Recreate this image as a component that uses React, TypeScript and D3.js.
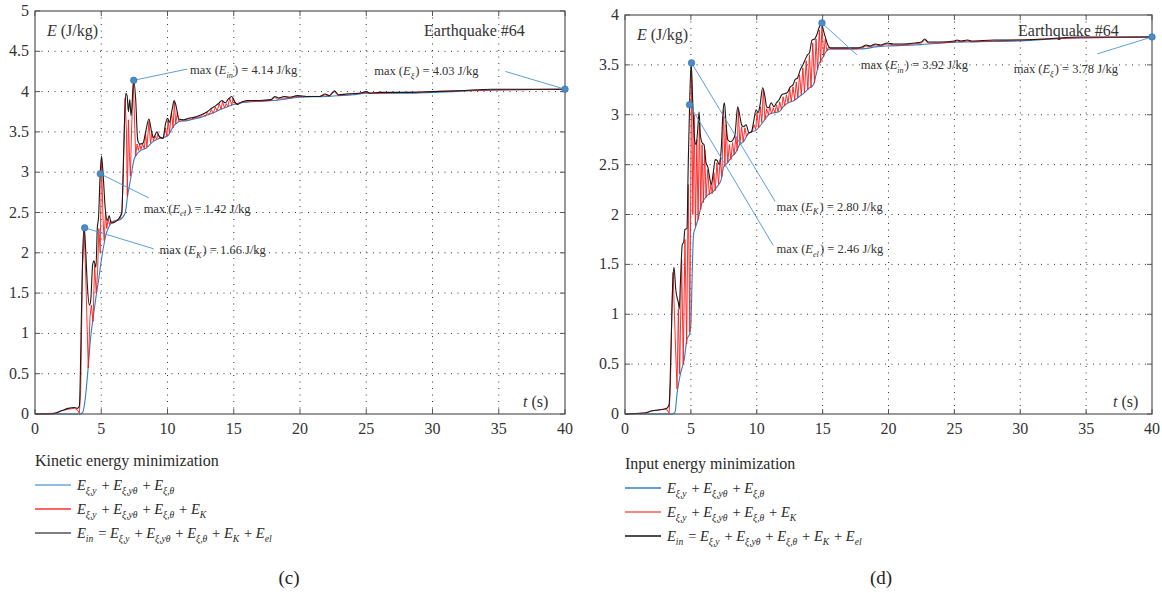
import React from "react";
import * as d3 from "d3";

type P = [number, number];

// ---------- Panel (c): Kinetic energy minimization ----------
const C_BLUE: P[] = [
  [0, 0], [3.4, 0], [3.6, 0.02], [3.8, 0.2], [4.0, 0.55], [4.2, 0.95], [4.4, 1.21], [4.6, 1.45], [4.8, 1.66],
  [5.0, 1.9], [5.2, 2.1], [5.4, 2.25], [5.6, 2.33], [5.9, 2.39], [6.4, 2.41], [6.8, 2.49], [7.0, 2.72],
  [7.2, 2.9], [7.5, 3.17], [7.9, 3.26], [8.4, 3.3], [8.9, 3.38], [9.4, 3.42], [10.0, 3.45], [10.5, 3.58],
  [10.9, 3.63], [11.5, 3.64], [12.0, 3.66], [12.5, 3.68], [13.0, 3.71], [13.5, 3.74], [14.0, 3.78],
  [14.5, 3.81], [15.0, 3.84], [15.5, 3.86], [16.0, 3.87], [17.0, 3.88], [18.0, 3.89], [19.0, 3.91],
  [20.0, 3.93], [22.0, 3.94], [24.0, 3.96], [25.0, 3.98], [28.0, 3.98], [30.0, 3.99], [33.0, 4.01],
  [35.0, 4.02], [40.0, 4.03],
];
const C_RED: P[] = [
  [0, 0], [1.5, 0.01], [2.0, 0.04], [2.5, 0.06], [3.0, 0.07], [3.2, 0.05], [3.35, 0.01], [3.45, 0.3],
  [3.58, 1.8], [3.72, 2.27], [3.85, 1.6], [4.02, 0.57], [4.15, 1.2], [4.25, 1.35], [4.38, 1.15], [4.5, 1.85],
  [4.62, 1.5], [4.72, 1.75], [4.82, 2.3], [4.92, 2.0], [5.02, 3.15], [5.14, 2.4], [5.22, 2.15], [5.32, 2.5],
  [5.42, 2.3], [5.52, 2.42], [5.62, 2.35], [5.72, 2.4], [5.85, 2.38], [6.0, 2.39], [6.2, 2.41], [6.4, 2.42],
  [6.55, 2.48], [6.65, 2.9], [6.8, 3.92], [6.9, 3.5], [6.97, 2.7], [7.05, 3.65], [7.13, 3.2], [7.2, 2.95],
  [7.3, 3.6], [7.42, 4.1], [7.52, 3.6], [7.6, 3.2], [7.7, 3.35], [7.8, 3.27], [7.9, 3.35], [8.0, 3.28],
  [8.12, 3.35], [8.25, 3.29], [8.35, 3.48], [8.45, 3.31], [8.6, 3.63], [8.72, 3.36], [8.82, 3.48],
  [8.95, 3.39], [9.05, 3.45], [9.18, 3.41], [9.28, 3.48], [9.4, 3.42], [9.55, 3.43], [9.7, 3.42],
  [9.85, 3.55], [9.95, 3.45], [10.05, 3.65], [10.15, 3.48], [10.3, 3.75], [10.42, 3.55], [10.52, 3.87],
  [10.62, 3.6], [10.75, 3.75], [10.85, 3.63], [11.0, 3.65], [11.2, 3.64], [11.5, 3.66], [11.8, 3.66],
  [12.2, 3.68], [12.5, 3.69], [12.7, 3.72], [12.85, 3.69], [13.0, 3.74], [13.15, 3.71], [13.3, 3.78],
  [13.45, 3.73], [13.6, 3.81], [13.75, 3.76], [13.9, 3.85], [14.05, 3.78], [14.15, 3.88], [14.3, 3.8],
  [14.45, 3.85], [14.55, 3.81], [14.7, 3.92], [14.85, 3.83], [14.95, 3.92], [15.1, 3.85], [15.3, 3.85],
  [15.6, 3.87], [16.0, 3.88], [17.0, 3.88], [17.8, 3.89], [18.1, 3.93], [18.3, 3.9], [18.5, 3.92],
  [18.8, 3.92], [19.2, 3.92], [19.8, 3.94], [20.5, 3.94], [21.5, 3.94], [21.9, 3.96], [22.2, 3.94],
  [22.6, 4.0], [22.9, 3.95], [23.5, 3.97], [24.5, 3.98], [25.0, 3.99], [25.3, 3.98], [26.0, 3.98],
  [28.0, 3.99], [30.0, 4.0], [32.0, 4.01], [34.5, 4.02], [40.0, 4.03],
];
const C_BLACK: P[] = [
  [0, 0], [1.0, 0], [1.5, 0.01], [2.0, 0.04], [2.5, 0.07], [3.0, 0.08], [3.2, 0.07], [3.35, 0.1],
  [3.5, 1.2], [3.6, 2.0], [3.72, 2.31], [3.82, 2.05], [3.95, 1.6], [4.1, 1.35], [4.2, 1.4], [4.35, 1.85],
  [4.45, 1.9], [4.6, 1.82], [4.7, 2.3], [4.8, 2.45], [4.9, 2.9], [5.02, 3.2], [5.15, 2.95], [5.3, 2.55],
  [5.45, 2.4], [5.6, 2.46], [5.75, 2.37], [6.0, 2.38], [6.3, 2.42], [6.55, 2.5], [6.7, 3.3], [6.85, 3.98],
  [6.95, 3.95], [7.05, 3.75], [7.15, 3.9], [7.25, 3.7], [7.45, 4.14], [7.6, 3.9], [7.75, 3.4], [7.9, 3.35],
  [8.15, 3.36], [8.35, 3.5], [8.6, 3.66], [8.8, 3.5], [8.95, 3.43], [9.2, 3.5], [9.4, 3.44], [9.65, 3.42],
  [9.85, 3.6], [10.0, 3.67], [10.15, 3.62], [10.35, 3.78], [10.5, 3.89], [10.65, 3.82], [10.85, 3.66],
  [11.2, 3.65], [11.6, 3.67], [12.0, 3.68], [12.5, 3.71], [13.0, 3.75], [13.3, 3.79], [13.6, 3.82],
  [13.9, 3.86], [14.1, 3.89], [14.35, 3.86], [14.6, 3.91], [14.85, 3.94], [15.05, 3.88], [15.3, 3.84],
  [15.6, 3.87], [16.0, 3.89], [17.0, 3.89], [17.8, 3.9], [18.1, 3.94], [18.4, 3.92], [18.8, 3.94],
  [19.2, 3.93], [19.8, 3.95], [20.5, 3.94], [21.5, 3.94], [21.9, 3.97], [22.2, 3.95], [22.6, 4.01],
  [22.9, 3.96], [23.5, 3.97], [24.5, 3.98], [25.0, 4.0], [25.3, 3.98], [26.0, 3.99], [28.0, 3.99],
  [30.0, 4.0], [32.0, 4.01], [34.5, 4.03], [40.0, 4.03],
];

// ---------- Panel (d): Input energy minimization ----------
const D_BLUE: P[] = [
  [0, 0], [3.6, 0], [3.8, 0.02], [3.95, 0.2], [4.1, 0.33], [4.3, 0.45], [4.5, 0.55], [4.7, 0.75], [4.9, 0.8],
  [5.0, 0.9], [5.1, 1.4], [5.2, 1.8], [5.35, 1.87], [5.6, 1.98], [5.8, 2.1], [6.0, 2.15], [6.3, 2.2],
  [6.6, 2.22], [7.0, 2.28], [7.3, 2.35], [7.5, 2.48], [7.8, 2.52], [8.1, 2.58], [8.4, 2.62], [8.7, 2.7],
  [9.0, 2.73], [9.3, 2.8], [9.6, 2.83], [9.9, 2.84], [10.2, 2.88], [10.5, 2.93], [10.9, 3.0], [11.3, 3.02],
  [11.7, 3.03], [12.0, 3.08], [12.4, 3.12], [12.8, 3.14], [13.2, 3.18], [13.6, 3.22], [14.0, 3.27],
  [14.3, 3.3], [14.5, 3.4], [14.7, 3.5], [15.0, 3.57], [15.3, 3.64], [15.6, 3.66], [16.0, 3.66],
  [18.0, 3.66], [19.0, 3.68], [20.0, 3.69], [22.0, 3.7], [24.0, 3.72], [26.0, 3.73], [30.0, 3.74],
  [34.0, 3.77], [40.0, 3.78],
];
const D_RED: P[] = [
  [0, 0], [1.5, 0.01], [2.0, 0.03], [2.5, 0.04], [3.0, 0.05], [3.2, 0.04], [3.35, 0.01], [3.45, 0.3],
  [3.55, 1.0], [3.65, 1.42], [3.8, 0.8], [3.95, 0.25], [4.05, 1.05], [4.15, 0.4], [4.3, 1.55], [4.42, 0.5],
  [4.55, 1.75], [4.68, 0.7], [4.8, 2.3], [4.92, 0.82], [5.05, 3.45], [5.15, 2.0], [5.25, 3.0], [5.35, 1.88],
  [5.45, 2.75], [5.55, 1.95], [5.65, 2.95], [5.75, 2.05], [5.85, 2.7], [5.95, 2.12], [6.05, 2.65],
  [6.15, 2.17], [6.28, 2.45], [6.4, 2.2], [6.52, 2.3], [6.62, 2.21], [6.75, 2.42], [6.85, 2.24],
  [6.98, 2.52], [7.1, 2.3], [7.22, 2.55], [7.35, 2.38], [7.48, 3.05], [7.58, 2.48], [7.68, 2.9],
  [7.8, 2.52], [7.92, 2.7], [8.04, 2.55], [8.16, 2.72], [8.28, 2.6], [8.42, 2.78], [8.52, 2.64],
  [8.6, 3.05], [8.72, 2.7], [8.85, 2.88], [8.97, 2.73], [9.1, 2.87], [9.22, 2.78], [9.35, 2.82],
  [9.5, 2.82], [9.65, 2.83], [9.8, 2.9], [9.92, 2.85], [10.02, 3.02], [10.14, 2.87], [10.28, 3.08],
  [10.38, 2.92], [10.5, 3.25], [10.62, 2.95], [10.75, 3.06], [10.88, 3.0], [11.0, 3.08], [11.12, 3.01],
  [11.25, 3.07], [11.38, 3.02], [11.5, 3.1], [11.62, 3.03], [11.75, 3.13], [11.88, 3.05], [12.0, 3.18],
  [12.12, 3.09], [12.25, 3.2], [12.38, 3.12], [12.5, 3.26], [12.62, 3.13], [12.75, 3.28], [12.88, 3.15],
  [13.0, 3.33], [13.12, 3.17], [13.25, 3.4], [13.38, 3.2], [13.5, 3.47], [13.62, 3.22], [13.75, 3.54],
  [13.88, 3.25], [14.0, 3.6], [14.12, 3.27], [14.25, 3.72], [14.38, 3.32], [14.5, 3.76], [14.62, 3.45],
  [14.75, 3.85], [14.85, 3.52], [14.95, 3.9], [15.08, 3.58], [15.2, 3.76], [15.32, 3.64], [15.45, 3.68],
  [15.6, 3.66], [16.0, 3.66], [17.5, 3.66], [18.0, 3.67], [18.3, 3.69], [18.6, 3.68], [19.0, 3.7],
  [19.4, 3.69], [19.9, 3.71], [20.4, 3.7], [21.0, 3.7], [22.0, 3.71], [22.5, 3.72], [22.75, 3.75],
  [23.0, 3.72], [24.0, 3.72], [25.0, 3.73], [25.2, 3.74], [25.5, 3.73], [26.0, 3.74], [26.3, 3.73],
  [28.0, 3.74], [30.0, 3.75], [32.0, 3.76], [34.5, 3.77], [40.0, 3.78],
];
const D_BLACK: P[] = [
  [0, 0], [1.5, 0.01], [2.0, 0.03], [2.5, 0.04], [3.0, 0.05], [3.2, 0.06], [3.35, 0.1], [3.5, 0.7],
  [3.62, 1.3], [3.72, 1.47], [3.85, 1.25], [3.98, 1.15], [4.05, 1.12], [4.12, 1.05], [4.2, 1.3], [4.35, 1.7],
  [4.45, 1.72], [4.55, 1.85], [4.7, 1.86], [4.8, 2.5], [4.9, 3.08], [5.02, 3.52], [5.15, 3.1], [5.28, 2.75],
  [5.4, 2.7], [5.52, 2.85], [5.62, 3.03], [5.72, 2.8], [5.85, 2.72], [6.0, 2.7], [6.15, 2.52], [6.3, 2.47],
  [6.45, 2.35], [6.55, 2.3], [6.7, 2.42], [6.85, 2.55], [7.0, 2.54], [7.15, 2.5], [7.3, 2.65], [7.45, 3.05],
  [7.55, 3.12], [7.65, 2.95], [7.8, 2.75], [8.0, 2.73], [8.2, 2.75], [8.35, 2.8], [8.55, 3.08], [8.7, 3.0],
  [8.85, 2.9], [9.0, 2.88], [9.2, 2.9], [9.4, 2.82], [9.6, 2.83], [9.75, 2.92], [9.95, 3.05], [10.1, 3.02],
  [10.25, 3.1], [10.45, 3.27], [10.6, 3.2], [10.75, 3.08], [10.9, 3.07], [11.1, 3.12], [11.3, 3.08],
  [11.5, 3.12], [11.7, 3.15], [11.9, 3.2], [12.1, 3.21], [12.3, 3.22], [12.55, 3.28], [12.75, 3.3],
  [12.9, 3.35], [13.1, 3.37], [13.3, 3.45], [13.5, 3.5], [13.7, 3.56], [13.85, 3.6], [14.0, 3.62],
  [14.2, 3.75], [14.4, 3.76], [14.55, 3.8], [14.75, 3.88], [14.92, 3.92], [15.05, 3.85], [15.2, 3.78],
  [15.4, 3.7], [15.6, 3.67], [16.0, 3.67], [17.5, 3.67], [18.0, 3.68], [18.3, 3.7], [18.6, 3.69],
  [19.0, 3.71], [19.4, 3.7], [19.9, 3.72], [20.4, 3.71], [21.0, 3.71], [22.0, 3.72], [22.5, 3.73],
  [22.75, 3.76], [23.0, 3.73], [24.0, 3.73], [25.0, 3.74], [25.2, 3.75], [25.5, 3.74], [26.0, 3.75],
  [26.3, 3.74], [28.0, 3.75], [30.0, 3.75], [32.0, 3.76], [34.5, 3.78], [40.0, 3.78],
];

const X_TICKS = [0, 5, 10, 15, 20, 25, 30, 35, 40];
const C_Y_TICKS = [0, 0.5, 1, 1.5, 2, 2.5, 3, 3.5, 4, 4.5, 5];
const D_Y_TICKS = [0, 0.5, 1, 1.5, 2, 2.5, 3, 3.5, 4];

const C_TITLE = "Kinetic energy minimization";
const D_TITLE = "Input energy minimization";
const EQ_LABEL = "Earthquake #64";

const C_MAX_LABELS = { in: "4.14", xi: "4.03", el: "1.42", k: "1.66" };
const D_MAX_LABELS = { in: "3.92", xi: "3.78", el: "2.46", k: "2.80" };

const FONT = "Liberation Serif";
const BLUE = "#2f7fc4";
const RED = "#ff1a1a";
const BLACK = "#1a1a1a";
const LEAD = "#4a95d8";

type Seg = { s: string; sub?: string };

function Rich({ x, y, segs, size, anchor, fill }: { x: number; y: number; segs: Seg[]; size: number; anchor?: string; fill?: string }) {
  const d = size * 0.3;
  const out: React.ReactNode[] = [];
  segs.forEach((g, i) => {
    if (g.sub !== undefined) {
      out.push(<tspan key={i + "a"} fontStyle="italic">{g.s}</tspan>);
      out.push(<tspan key={i + "b"} fontStyle="italic" fontSize={size * 0.66} dy={d}>{g.sub}</tspan>);
      out.push(<tspan key={i + "c"} dy={-d}>{"\u200A"}</tspan>);
    } else {
      out.push(<tspan key={i}>{g.s}</tspan>);
    }
  });
  return (
    <text x={x} y={y} fontSize={size} fill={fill || "#2a2a2a"} textAnchor={anchor || "start"} style={{ whiteSpace: "pre", fontFamily: FONT }}>
      {out}
    </text>
  );
}

const ROW1: Seg[] = [{ s: "E", sub: "ξ,y" }, { s: " + " }, { s: "E", sub: "ξ,yθ" }, { s: " + " }, { s: "E", sub: "ξ,θ" }];
const ROW2: Seg[] = [...ROW1, { s: " + " }, { s: "E", sub: "K" }];
const ROW3: Seg[] = [{ s: "E", sub: "in" }, { s: " = " }, ...ROW2, { s: " + " }, { s: "E", sub: "el" }];

type Ann = { dot: P; end: P; label: P; sub: string; val: string };

type Cfg = {
  left: number; right: number; top: number; bottom: number; yMax: number; yTicks: number[];
  blue: P[]; red: P[]; black: P[]; anns: Ann[];
  eLabel: P; eqLabel: P; tLabel: P;
  legend: { x: number; y: number; title: string; gray: boolean };
  tag: { x: number; y: number; s: string };
};

const TXT = { fontFamily: FONT } as React.CSSProperties;

function Panel({ c }: { c: Cfg }) {
  const x = d3.scaleLinear().domain([0, 40]).range([c.left, c.right]);
  const y = d3.scaleLinear().domain([0, c.yMax]).range([c.bottom, c.top]);
  const smooth = d3.line<P>().x((d) => x(d[0])).y((d) => y(d[1])).curve(d3.curveMonotoneX);
  const lin = d3.line<P>().x((d) => x(d[0])).y((d) => y(d[1]));
  const tick = 5;
  const L = c.legend;
  return (
    <g>
      {X_TICKS.filter((t) => t > 0 && t < 40).map((t) => (
        <line key={"gx" + t} x1={x(t)} x2={x(t)} y1={c.top} y2={c.bottom} stroke="#333" strokeWidth={1} strokeDasharray="1,5.5" />
      ))}
      {c.yTicks.filter((v) => v > 0 && v < c.yMax).map((v) => (
        <line key={"gy" + v} x1={c.left} x2={c.right} y1={y(v)} y2={y(v)} stroke="#333" strokeWidth={1} strokeDasharray="1,5.5" />
      ))}
      <path d={smooth(c.blue) || ""} fill="none" stroke={BLUE} strokeWidth={1.1} />
      <path d={lin(c.red) || ""} fill="none" stroke={RED} strokeWidth={0.9} />
      <path d={smooth(c.black) || ""} fill="none" stroke={BLACK} strokeWidth={1.1} />
      <rect x={c.left} y={c.top} width={c.right - c.left} height={c.bottom - c.top} fill="none" stroke="#555" strokeWidth={1.2} />
      {X_TICKS.map((t) => (
        <g key={"tx" + t}>
          <line x1={x(t)} x2={x(t)} y1={c.bottom} y2={c.bottom - tick} stroke="#555" />
          <line x1={x(t)} x2={x(t)} y1={c.top} y2={c.top + tick} stroke="#555" />
          <text x={x(t)} y={c.bottom + 20} fontSize={16} style={TXT} fill="#333" textAnchor="middle">{t}</text>
        </g>
      ))}
      {c.yTicks.map((v) => (
        <g key={"ty" + v}>
          <line x1={c.left} x2={c.left + tick} y1={y(v)} y2={y(v)} stroke="#555" />
          <line x1={c.right} x2={c.right - tick} y1={y(v)} y2={y(v)} stroke="#555" />
          <text x={c.left - 6} y={y(v) + 5} fontSize={16} style={TXT} fill="#333" textAnchor="end">{v}</text>
        </g>
      ))}
      <text x={c.eLabel[0]} y={c.eLabel[1]} fontSize={16} fill="#333" style={{ whiteSpace: "pre", fontFamily: FONT }}>
        <tspan fontStyle="italic">E</tspan> (J/kg)
      </text>
      <text x={c.eqLabel[0]} y={c.eqLabel[1]} fontSize={16} style={TXT} fill="#333">{EQ_LABEL}</text>
      <text x={c.tLabel[0]} y={c.tLabel[1]} fontSize={16} fill="#333" style={{ whiteSpace: "pre", fontFamily: FONT }}>
        <tspan fontStyle="italic">t</tspan> (s)
      </text>
      {c.anns.map((a, i) => (
        <g key={"an" + i}>
          <line x1={x(a.dot[0])} y1={y(a.dot[1])} x2={x(a.end[0])} y2={y(a.end[1])} stroke={LEAD} strokeWidth={0.9} />
          <circle cx={x(a.dot[0])} cy={y(a.dot[1])} r={3.3} fill="#4a8bc8" stroke="#2f6faa" strokeWidth={0.6} />
          <Rich x={x(a.label[0])} y={y(a.label[1])} size={12.5} segs={[{ s: "max (" }, { s: "E", sub: a.sub }, { s: ") = " + a.val + " J/kg" }]} fill="#333" />
        </g>
      ))}
      <text x={L.x} y={L.y} fontSize={16} style={TXT} fill="#2a2a2a">{L.title}</text>
      {[ROW1, ROW2, ROW3].map((r, i) => {
        const ly = L.y + 19 + i * 24;
        const col = i === 0 ? (L.gray ? "#6fa6d8" : BLUE) : i === 1 ? (L.gray ? "#ff3030" : "#ff5a5a") : (L.gray ? "#555" : "#111");
        return (
          <g key={"lg" + i}>
            <line x1={L.x} x2={L.x + 36} y1={ly} y2={ly} stroke={col} strokeWidth={1.4} />
            <Rich x={L.x + 42} y={ly + 5} segs={r} size={14.5} />
          </g>
        );
      })}
      <text x={c.tag.x} y={c.tag.y} fontSize={19} style={TXT} fill="#222" textAnchor="middle">{c.tag.s}</text>
    </g>
  );
}

const C_CFG: Cfg = {
  left: 35, right: 565, top: 11, bottom: 414, yMax: 5, yTicks: C_Y_TICKS,
  blue: C_BLUE, red: C_RED, black: C_BLACK,
  anns: [
    { dot: [7.45, 4.14], end: [11.5, 4.28], label: [11.7, 4.22], sub: "in", val: C_MAX_LABELS.in },
    { dot: [40, 4.03], end: [35.5, 4.25], label: [25.6, 4.2], sub: "ξ", val: C_MAX_LABELS.xi },
    { dot: [4.93, 2.98], end: [8.6, 2.68], label: [8.2, 2.5], sub: "el", val: C_MAX_LABELS.el },
    { dot: [3.75, 2.31], end: [8.95, 2.05], label: [9.4, 1.98], sub: "K", val: C_MAX_LABELS.k },
  ],
  eLabel: [47, 36], eqLabel: [424, 36], tLabel: [523, 407],
  legend: { x: 35, y: 466, title: C_TITLE, gray: true },
  tag: { x: 289, y: 584, s: "(c)" },
};

const D_CFG: Cfg = {
  left: 625, right: 1152, top: 15, bottom: 414, yMax: 4, yTicks: D_Y_TICKS,
  blue: D_BLUE, red: D_RED, black: D_BLACK,
  anns: [
    { dot: [14.95, 3.92], end: [17.6, 3.6], label: [17.9, 3.46], sub: "in", val: D_MAX_LABELS.in },
    { dot: [40, 3.78], end: [35.85, 3.61], label: [29.5, 3.42], sub: "ξ", val: D_MAX_LABELS.xi },
    { dot: [5.05, 3.52], end: [11.4, 2.13], label: [11.5, 2.04], sub: "K", val: D_MAX_LABELS.k },
    { dot: [4.9, 3.1], end: [11.25, 1.69], label: [11.5, 1.61], sub: "el", val: D_MAX_LABELS.el },
  ],
  eLabel: [637, 40], eqLabel: [1018, 36], tLabel: [1113, 407],
  legend: { x: 625, y: 469, title: D_TITLE, gray: false },
  tag: { x: 881, y: 584, s: "(d)" },
};

export default function App() {
  return (
    <svg width={1162} height={593} style={{ position: "absolute", left: 0, top: 0, background: "#fff" }}>
      <rect width={1162} height={593} fill="#fff" />
      <Panel c={C_CFG} />
      <Panel c={D_CFG} />
    </svg>
  );
}
